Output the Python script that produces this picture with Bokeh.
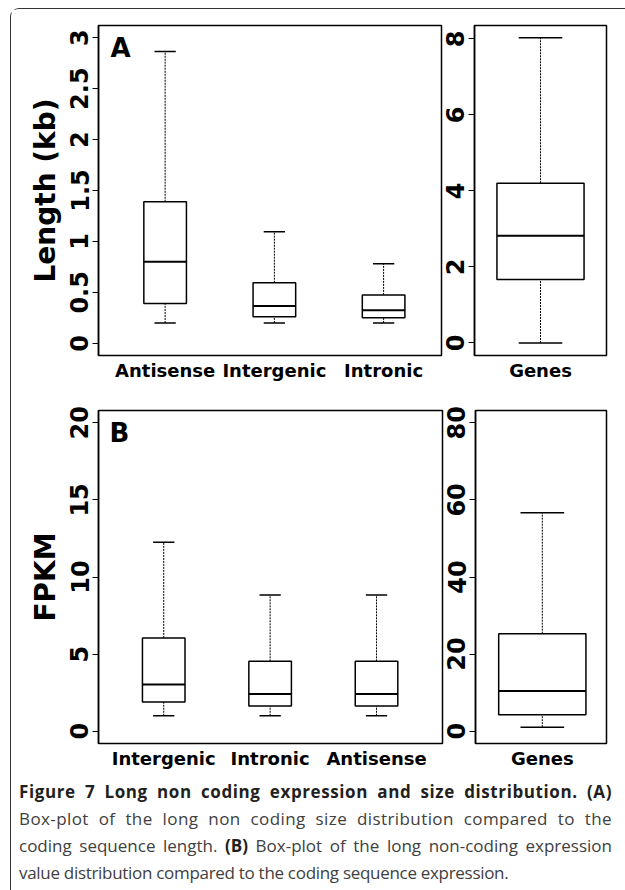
import numpy as np
from bokeh.plotting import figure
from bokeh.models import Range1d, FixedTicker, NumeralTickFormatter, BasicTickFormatter, Label, Div, ColumnDataSource
from bokeh.layouts import row, column
from bokeh.embed import file_html
from bokeh.resources import INLINE

# ---------------- data ----------------
# Panel A : transcript length (kb)
len_cats = ["Antisense", "Intergenic", "Intronic"]
len_lower = [0.20, 0.20, 0.20]
len_q1 = [0.39, 0.26, 0.25]
len_median = [0.80, 0.365, 0.325]
len_q3 = [1.39, 0.595, 0.475]
len_upper = [2.865, 1.095, 0.78]
len_ticks = [0, 0.5, 1, 1.5, 2, 2.5, 3]

gene_len_cats = ["Genes"]
gene_len_lower = [0.0]
gene_len_q1 = [1.67]
gene_len_median = [2.82]
gene_len_q3 = [4.20]
gene_len_upper = [8.03]
gene_len_ticks = [0, 2, 4, 6, 8]

# Panel B : expression (FPKM)
fpkm_cats = ["Intergenic", "Intronic", "Antisense"]
fpkm_lower = [1.0, 1.0, 1.0]
fpkm_q1 = [1.90, 1.63, 1.63]
fpkm_median = [3.03, 2.41, 2.41]
fpkm_q3 = [6.05, 4.53, 4.53]
fpkm_upper = [12.26, 8.83, 8.83]
fpkm_ticks = [0, 5, 10, 15, 20]

gene_fpkm_cats = ["Genes"]
gene_fpkm_lower = [1.04]
gene_fpkm_q1 = [4.27]
gene_fpkm_median = [10.4]
gene_fpkm_q3 = [25.3]
gene_fpkm_upper = [56.7]
gene_fpkm_ticks = [0, 20, 40, 60, 80]

caption_lines = [
    ("b", "Figure 7 Long non coding expression and size distribution. (A)"),
    ("", "Box-plot of the long non coding size distribution compared to the"),
    ("", "coding sequence length. <b style=\"color:#231f20;\">(B)</b> Box-plot of the long non-coding expression"),
    ("", "value distribution compared to the coding sequence expression."),
]

FONT = "DejaVu Sans"


def panel(cats, lower, q1, med, q3, upper, ticks, xr, yr, box_w,
          width, height, bl, br, bt, bb, ylabel=None, fmt=None, letter=None, letter_xy=None):
    p = figure(width=width, height=height, x_range=Range1d(*xr), y_range=Range1d(*yr),
               output_backend="svg", toolbar_location=None,
               min_border_left=bl, min_border_right=br, min_border_top=bt, min_border_bottom=bb)
    p.xgrid.visible = False
    p.ygrid.visible = False
    p.outline_line_color = "black"
    p.outline_line_width = 1.5
    p.outline_line_alpha = 1.0
    p.background_fill_color = "white"
    p.border_fill_color = "white"

    n = len(cats)
    xs = np.arange(1, n + 1, dtype=float)
    src = ColumnDataSource(dict(
        x=xs, lower=lower, q1=q1, med=med, q3=q3, upper=upper,
        cl=xs - box_w / 4, cr=xs + box_w / 4,
        bl=xs - box_w / 2, br=xs + box_w / 2,
    ))
    p.segment(x0="x", y0="q3", x1="x", y1="upper", source=src, line_color="black",
              line_width=1, line_dash="2 1")
    p.segment(x0="x", y0="lower", x1="x", y1="q1", source=src, line_color="black",
              line_width=1, line_dash="2 1")
    p.segment(x0="cl", y0="upper", x1="cr", y1="upper", source=src, line_color="black", line_width=1.5)
    p.segment(x0="cl", y0="lower", x1="cr", y1="lower", source=src, line_color="black", line_width=1.5)
    p.vbar(x="x", width=box_w, bottom="q1", top="q3", source=src, fill_color="white",
           line_color="black", line_width=1.5)
    p.segment(x0="bl", y0="med", x1="br", y1="med", source=src, line_color="black", line_width=2)

    # x axis: category names
    xa = p.xaxis[0]
    xa.ticker = FixedTicker(ticks=list(xs))
    xa.major_label_overrides = {i + 1: c for i, c in enumerate(cats)}
    xa.major_tick_out = 0
    xa.major_tick_in = 0
    xa.minor_tick_out = 0
    xa.minor_tick_in = 0
    xa.axis_line_color = None
    xa.major_label_text_font = FONT
    xa.major_label_text_font_style = "bold"
    xa.major_label_text_font_size = "18px"
    xa.major_label_text_color = "black"
    xa.major_label_standoff = 4

    ya = p.yaxis[0]
    ya.ticker = FixedTicker(ticks=ticks)
    ya.formatter = fmt if fmt is not None else BasicTickFormatter()
    ya.major_label_orientation = "vertical"
    ya.major_label_text_font = FONT
    ya.major_label_text_font_style = "bold"
    ya.major_label_text_font_size = "24px"
    ya.major_label_text_color = "black"
    ya.major_label_standoff = 4
    ya.major_tick_out = 6
    ya.major_tick_in = 0
    ya.minor_tick_out = 0
    ya.minor_tick_in = 0
    ya.major_tick_line_color = "black"
    ya.axis_line_color = "black"
    ya.axis_line_width = 1.5
    if ylabel:
        ya.axis_label = ylabel
        ya.axis_label_text_font = FONT
        ya.axis_label_text_font_style = "bold"
        ya.axis_label_text_font_size = "28px"
        ya.axis_label_text_color = "black"
        ya.axis_label_standoff = 6
    if letter:
        p.add_layout(Label(x=letter_xy[0], y=letter_xy[1], text=letter, text_font=FONT,
                           text_font_style="bold", text_font_size="26px", text_color="black",
                           text_align="left", text_baseline="top"))
    return p


pA = panel(len_cats, len_lower, len_q1, len_median, len_q3, len_upper, len_ticks,
           (0.39, 3.53), (-0.12, 3.12), 0.39, 432, 387, 87, 2, 16, 41,
           ylabel="Length (kb)", fmt=NumeralTickFormatter(format="0.[0]"),
           letter="A", letter_xy=(0.5, 3.05))
pA2 = panel(gene_len_cats, gene_len_lower, gene_len_q1, gene_len_median, gene_len_q3, gene_len_upper,
            gene_len_ticks, (0.5, 1.5), (-0.33, 8.35), 0.66, 181, 387, 27, 18, 16, 41)
pB = panel(fpkm_cats, fpkm_lower, fpkm_q1, fpkm_median, fpkm_q3, fpkm_upper, fpkm_ticks,
           (0.387, 3.62), (-0.8, 20.8), 0.40, 433, 380, 87, 2, 14, 33,
           ylabel="FPKM", letter="B", letter_xy=(0.49, 20.33))
pB2 = panel(gene_fpkm_cats, gene_fpkm_lower, gene_fpkm_q1, gene_fpkm_median, gene_fpkm_q3, gene_fpkm_upper,
            gene_fpkm_ticks, (0.49, 1.49), (-3.2, 83.2), 0.666, 180, 380, 28, 18, 14, 33)

# caption: first three lines justified to the full width, last line left aligned
line_styles = [
    "text-align:justify;text-align-last:justify;letter-spacing:0.6px;font-weight:bold;color:#231f20;",
    "text-align:justify;text-align-last:justify;letter-spacing:0.4px;",
    "text-align:justify;text-align-last:justify;letter-spacing:0px;",
    "text-align:left;letter-spacing:-0.3px;",
]
inner = "".join(
    f'<div style="{st}">{txt}</div>' for st, (_, txt) in zip(line_styles, caption_lines)
)
caption_html = (
    '<div style="font-family:\'Open Sans\';font-size:17px;line-height:27px;color:#404040;'
    'padding-left:3px;margin-top:-3px;width:596px;">' + inner + '</div>'
)
cap = Div(text=caption_html, width=608, height=112)

layout = column(row(pA, pA2), row(pB, pB2), cap,
                styles={"border-top": "1.5px solid #333", "border-left": "1.5px solid #333",
                        "border-top-left-radius": "9px", "margin-left": "10px", "margin-top": "8px"})

open("out.html", "w").write(file_html(layout, INLINE))
